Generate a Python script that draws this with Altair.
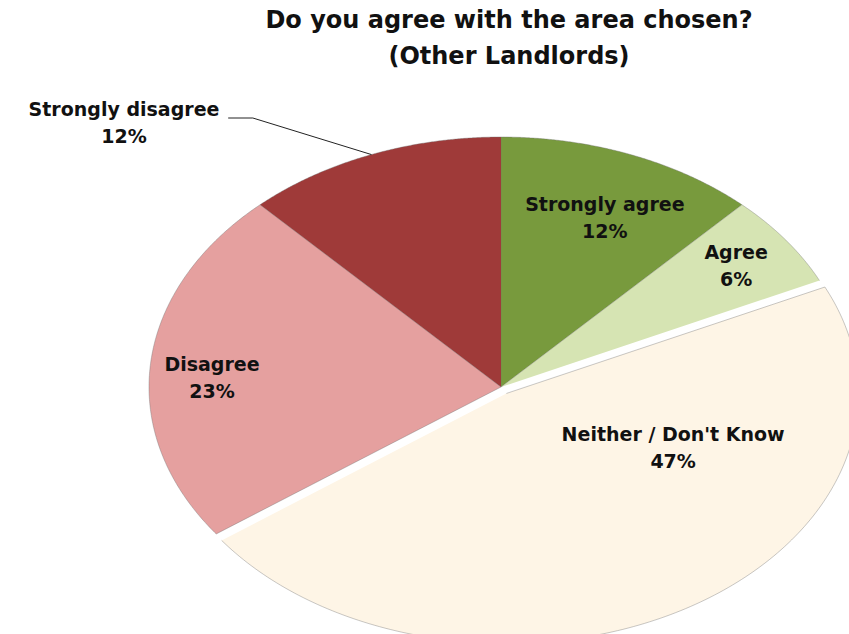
import altair as alt
import pandas as pd

# ---- data ----
CATEGORIES = ["Strongly agree", "Agree", "Neither / Don't  Know", "Disagree", "Strongly disagree"]
PERCENTS = [12, 6, 47, 23, 12]
COLORS = ["#789A3D", "#D6E4B3", "#FEF5E6", "#E5A09F", "#9F3A39"]
EXPLODE = [0, 0, 0.03, 0, 0]
# label anchor positions (first text line), in ellipse-radius units from the pie centre
LABEL_X = [0.295, 0.668, 0.489, -0.821, -1.071]
LABEL_Y = [0.728, 0.536, -0.192, 0.088, 1.108]
# leader line (Strongly disagree): start and elbow, ellipse units
LEADER_X = [-0.775, -0.705]
LEADER_Y = [1.076, 1.076]
TITLE = "Do you agree with the area chosen?\n(Other Landlords)"

# ---- layout ----
W, H = 849, 634
CX, CY, RX, RY = 501, 387, 352, 250
XS = alt.Scale(domain=[(0 - CX) / RX, (W - CX) / RX], nice=False, zero=False)
YS = alt.Scale(domain=[(CY - H) / RY, CY / RY], nice=False, zero=False)
FONT = "DejaVu Sans"

df = pd.DataFrame({
    "category": CATEGORIES,
    "value": PERCENTS,
    "idx": list(range(len(CATEGORIES))),
    "explode": EXPLODE,
    "lx": LABEL_X,
    "ly": LABEL_Y,
})

base = (
    alt.Chart(df)
    .transform_joinaggregate(total="sum(value)")
    .transform_window(cum="sum(value)", sort=[alt.SortField("idx")], frame=[None, 0])
    .transform_calculate(
        start="(datum.cum - datum.value) / datum.total * 2 * PI",
        end="datum.cum / datum.total * 2 * PI",
    )
    .transform_calculate(mid="(datum.start + datum.end) / 2")
)

slices = (
    base.transform_calculate(t="sequence(-1, 181)")
    .transform_flatten(["t"])
    .transform_calculate(
        ang="datum.start + (datum.end - datum.start) * max(datum.t, 0) / 180",
    )
    .transform_calculate(
        px="datum.explode * sin(datum.mid) + (datum.t < 0 ? 0 : sin(datum.ang))",
        py="datum.explode * cos(datum.mid) + (datum.t < 0 ? 0 : cos(datum.ang))",
    )
    .mark_line(filled=True, stroke="#6f6f6f", strokeWidth=0.7, strokeOpacity=0.55,
               strokeJoin="round")
    .encode(
        x=alt.X("px:Q", scale=XS, axis=None),
        y=alt.Y("py:Q", scale=YS, axis=None),
        color=alt.Color("category:N", scale=alt.Scale(domain=CATEGORIES, range=COLORS), legend=None),
        order=alt.Order("t:Q"),
    )
)

labels = (
    base.transform_calculate(label="datum.category + '\\n' + datum.value + '%'")
    .mark_text(font=FONT, fontWeight="bold", fontSize=19, lineBreak="\n", lineHeight=27,
               align="center", baseline="middle", color="#111111")
    .encode(
        x=alt.X("lx:Q", scale=XS, axis=None),
        y=alt.Y("ly:Q", scale=YS, axis=None),
        text="label:N",
    )
)

leader = (
    base.transform_filter(alt.datum.category == "Strongly disagree")
    .transform_calculate(t="sequence(0, 3)")
    .transform_flatten(["t"])
    .transform_calculate(
        px=f"datum.t == 0 ? {LEADER_X[0]} : (datum.t == 1 ? {LEADER_X[1]} : sin(datum.mid))",
        py=f"datum.t == 0 ? {LEADER_Y[0]} : (datum.t == 1 ? {LEADER_Y[1]} : cos(datum.mid))",
    )
    .mark_line(color="#222222", strokeWidth=1)
    .encode(
        x=alt.X("px:Q", scale=XS, axis=None),
        y=alt.Y("py:Q", scale=YS, axis=None),
        order=alt.Order("t:Q"),
    )
)

title = (
    alt.Chart(pd.DataFrame({"title": [TITLE]}))
    .mark_text(font=FONT, fontWeight="bold", fontSize=24, lineBreak="\n", lineHeight=36,
               align="center", baseline="middle", color="#111111")
    .encode(text="title:N", x=alt.value(509), y=alt.value(21))
)

chart = (
    alt.layer(slices, leader, labels, title)
    .properties(width=W, height=H, padding=0, autosize=alt.AutoSizeParams(type="none"),
                background="white")
    .configure_view(stroke=None)
)

chart.save("out.html", embed_options={"renderer": "svg", "actions": False})
